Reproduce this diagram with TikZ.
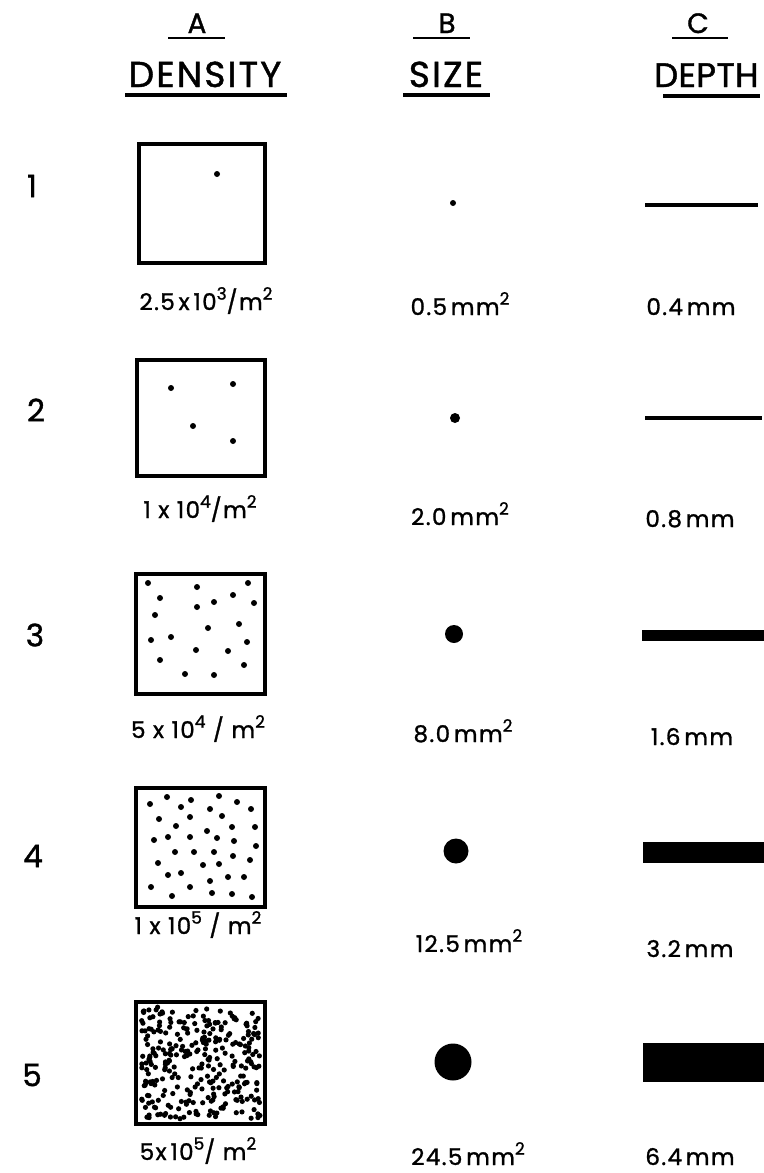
\documentclass[tikz,border=0pt]{standalone}
\usepackage{fontspec}
\setmainfont{Poppins}[FakeBold=1.2, LetterSpace=6]
\usepackage{tikz}
\usetikzlibrary{positioning}
\newcommand{\upx}[1]{\raisebox{0.45em}{\fontsize{8.5}{8.5}\selectfont #1}}
\tikzstyle{hletter}=[font=\fontsize{14}{14}\selectfont, anchor=base, inner sep=0pt]
\tikzstyle{htitle}=[font=\fontsize{18}{18}\selectfont, anchor=base, inner sep=0pt]
\tikzstyle{rownum}=[font=\fontsize{15.5}{15.5}\selectfont, inner sep=0pt]
\tikzstyle{val}=[font=\fontsize{11.5}{11.5}\selectfont, anchor=base, inner sep=0pt]
\tikzstyle{thinline}=[line width=1pt]
\tikzstyle{thickline}=[line width=1.6pt]
\tikzstyle{sqbox}=[line width=2pt]
\tikzstyle{speck}=[fill=black]

\begin{document}
\begin{tikzpicture}[x=0.5pt, y=-0.5pt]
        \useasboundingbox (0,0) rectangle (764,1173);
        % column headings
        \node[hletter] (hA) at (197,33) {A};
        \node[hletter] (hB) at (447,33) {B};
        \node[hletter] (hC) at (698,33) {C};
        \node[htitle] (tA) at (205,87) {DENSITY};
        \node[htitle] (tB) at (446,87) {SIZE};
        \node[htitle, anchor=base east,
          font=\fontsize{17}{17}\selectfont\addfontfeatures{LetterSpace=1}]
          (tC) at (759,87) {DEPTH};
        \draw[thinline] (168,38) -- (225,38);
        \draw[thinline] (413,38) -- (470,38);
        \draw[thinline] (672,38) -- (728,38);
        \draw[thickline] (125,95) -- (287,95);
        \draw[thickline] (403,95) -- (490,95);
        \draw[thickline] (663,96) -- (760,96);
        % row numbers
        \node[rownum] (r1) at (32,186) {1};
        \node[rownum] (r2) at (36,410) {2};
        \node[rownum] (r3) at (35,635) {3};
        \node[rownum] (r4) at (33,856) {4};
        \node[rownum] (r5) at (32,1075) {5};
        % density squares
        \draw[sqbox] (139,144) rectangle (265,263);
        \fill[speck] (217,174) circle (3);
        \draw[sqbox] (137,360) rectangle (265,476);
        \foreach \p in {(171,388),(233,384),(193,426),(233,441)}
          \fill[speck] \p circle (3);
        \draw[sqbox] (136,574) rectangle (265,694);
        \foreach \p in {(148,583),(197,587),(248,583),(160,598),(233,595),
            (214,602),(197,607),(254,603),(155,615),(239,624),(208,628),
            (151,640),(171,637),(247,642),(196,650),(228,651),(160,660),
            (244,665),(185,674),(214,675)}
          \fill[speck] \p circle (3);
        \draw[sqbox] (136,788) rectangle (265,907);
        \foreach \p in {(150,804),(167,797),(191,800),(181,807),(219,796),
            (237,802),(251,809),(210,809),(159,819),(190,817),(222,816),
            (176,826),(232,827),(255,827),(154,840),(168,837),(190,837),
            (207,831),(217,838),(234,841),(256,846),(175,852),(194,852),
            (214,852),(233,856),(250,860),(158,863),(203,865),(219,864),
            (168,875),(181,873),(210,881),(228,877),(244,877),(151,887),
            (190,887),(212,893),(232,894),(252,897),(172,896)}
          \fill[speck] \p circle (3);
        \draw[sqbox] (136,1002) rectangle (265,1124);
        \pgfmathsetseed{42}
        \foreach \k in {1,...,300} {
          \pgfmathsetmacro\px{141+119*rnd}
          \pgfmathsetmacro\py{1007+112*rnd}
          \fill[speck] (\px,\py) circle (2.6);
        }
        % size dots
        \fill[speck] (453,203) circle (3);
        \fill[speck] (455,418) circle (5);
        \fill[speck] (454,634) circle (9);
        \fill[speck] (456,851) circle (12.5);
        \fill[speck] (453,1062) circle (18.5);
        % depth bars
        \fill[speck] (645,203) rectangle (758,207);
        \fill[speck] (645,416) rectangle (762,420);
        \fill[speck] (642,630) rectangle (764,641);
        \fill[speck] (643,842) rectangle (764,863);
        \fill[speck] (643,1043) rectangle (764,1082);
        % value labels
        \node[val] (d1) at (206,310) {2.5\,x\,10\upx{3}/m\upx{2}};
        \node[val] (d2) at (200,518) {1 x 10\upx{4}/m\upx{2}};
        \node[val] (d3) at (198,738) {5 x 10\upx{4} / m\upx{2}};
        \node[val] (d4) at (198,934) {1 x 10\upx{5} / m\upx{2}};
        \node[val] (d5) at (198,1160) {5x\,10\upx{5}/ m\upx{2}};
        \node[val] (s1) at (460,315) {0.5\,mm\upx{2}};
        \node[val] (s2) at (460,525) {2.0\,mm\upx{2}};
        \node[val] (s3) at (463,742) {8.0\,mm\upx{2}};
        \node[val] (s4) at (469,952) {12.5\,mm\upx{2}};
        \node[val] (s5) at (468,1165) {24.5\,mm\upx{2}};
        \node[val] (p1) at (691,315) {0.4\,mm};
        \node[val] (p2) at (690,527) {0.8\,mm};
        \node[val] (p3) at (692,745) {1.6\,mm};
        \node[val] (p4) at (690,957) {3.2\,mm};
        \node[val] (p5) at (690,1165) {6.4\,mm};
      \end{tikzpicture}
\end{document}
